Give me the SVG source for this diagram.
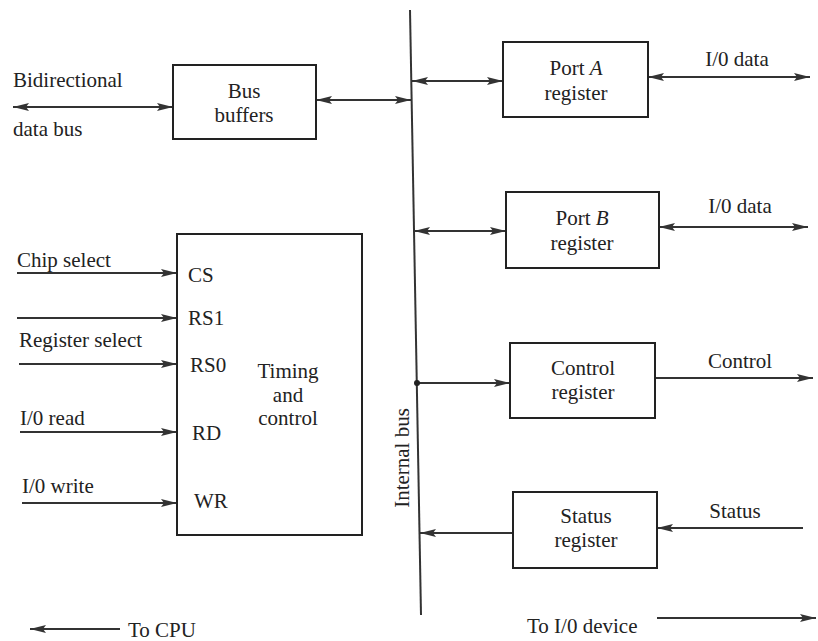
<svg xmlns="http://www.w3.org/2000/svg" width="818" height="641" viewBox="0 0 818 641">
<style>
.box{fill:none;stroke:#222;stroke-width:2}
.ln{fill:none;stroke:#333;stroke-width:2}
text{font-family:"Liberation Serif","Times New Roman",serif;font-size:21px;fill:#222}
.c{text-anchor:middle}
</style>
<defs>
<marker id="ah" viewBox="0 0 16 8" refX="16" refY="4" markerWidth="16" markerHeight="8" markerUnits="userSpaceOnUse" orient="auto-start-reverse">
<path d="M0,0 L16,4 L0,8 L3,4 Z" fill="#333"/>
</marker>
</defs>
<rect width="818" height="641" fill="#fff"/>

<g id="connectors">
<line class="ln" x1="410" y1="10" x2="421" y2="615"/>
<line class="ln" x1="13" y1="107" x2="173" y2="107" marker-start="url(#ah)" marker-end="url(#ah)"/>
<line class="ln" x1="316" y1="100" x2="411" y2="100" marker-start="url(#ah)" marker-end="url(#ah)"/>
<line class="ln" x1="412" y1="81" x2="503" y2="81" marker-start="url(#ah)" marker-end="url(#ah)"/>
<line class="ln" x1="648" y1="77" x2="810" y2="77" marker-start="url(#ah)" marker-end="url(#ah)"/>
<line class="ln" x1="414" y1="231" x2="506" y2="231" marker-start="url(#ah)" marker-end="url(#ah)"/>
<line class="ln" x1="659" y1="227" x2="808" y2="227" marker-start="url(#ah)" marker-end="url(#ah)"/>
<line class="ln" x1="417" y1="383" x2="510" y2="383" marker-end="url(#ah)"/>
<circle cx="417" cy="383" r="3" fill="#222"/>
<line class="ln" x1="655" y1="378" x2="813" y2="378" marker-end="url(#ah)"/>
<line class="ln" x1="513" y1="533" x2="420" y2="533" marker-end="url(#ah)"/>
<line class="ln" x1="803" y1="528" x2="657" y2="528" marker-end="url(#ah)"/>
<line class="ln" x1="17" y1="273" x2="177" y2="273" marker-end="url(#ah)"/>
<line class="ln" x1="17" y1="318" x2="177" y2="318" marker-end="url(#ah)"/>
<line class="ln" x1="19" y1="364" x2="177" y2="364" marker-end="url(#ah)"/>
<line class="ln" x1="20" y1="432" x2="177" y2="432" marker-end="url(#ah)"/>
<line class="ln" x1="22" y1="503" x2="177" y2="503" marker-end="url(#ah)"/>
<line class="ln" x1="120" y1="629" x2="30" y2="629" marker-end="url(#ah)"/>
<line class="ln" x1="657" y1="618" x2="816" y2="618" marker-end="url(#ah)"/>
</g>

<g id="labels">
<text x="13" y="87">Bidirectional</text>
<text x="13" y="136">data bus</text>
<text x="737" y="66" class="c">I/0 data</text>
<text x="740" y="213" class="c">I/0 data</text>
<text x="740" y="368" class="c">Control</text>
<text x="735" y="518" class="c">Status</text>
<text x="17" y="267">Chip select</text>
<text x="19" y="347">Register select</text>
<text x="20" y="425">I/0 read</text>
<text x="22" y="493">I/0 write</text>
<text class="c" transform="translate(409,458) rotate(-90)">Internal bus</text>
<text x="128" y="637">To CPU</text>
<text x="527" y="633">To I/0 device</text>
</g>

<g id="bus-buffers">
<rect class="box" x="173" y="65" width="143" height="74"/>
<text x="244" y="98" class="c">Bus</text>
<text x="244" y="122" class="c">buffers</text>
</g>

<g id="port-a">
<rect class="box" x="503" y="42" width="145" height="75"/>
<text x="576" y="75" class="c">Port <tspan font-style="italic">A</tspan></text>
<text x="576" y="100" class="c">register</text>
</g>

<g id="port-b">
<rect class="box" x="506" y="192" width="153" height="76"/>
<text x="582" y="225" class="c">Port <tspan font-style="italic">B</tspan></text>
<text x="582" y="250" class="c">register</text>
</g>

<g id="control-register">
<rect class="box" x="510" y="343" width="145" height="75"/>
<text x="583" y="375" class="c">Control</text>
<text x="583" y="399" class="c">register</text>
</g>

<g id="status-register">
<rect class="box" x="513" y="492" width="144" height="76"/>
<text x="586" y="523" class="c">Status</text>
<text x="586" y="547" class="c">register</text>
</g>

<g id="timing-control">
<rect class="box" x="177" y="234" width="185" height="301"/>
<text x="188" y="282">CS</text>
<text x="188" y="325">RS1</text>
<text x="190" y="372">RS0</text>
<text x="192" y="440">RD</text>
<text x="194" y="508">WR</text>
<text x="288" y="378" class="c">Timing</text>
<text x="288" y="402" class="c">and</text>
<text x="288" y="425" class="c">control</text>
</g>
</svg>
